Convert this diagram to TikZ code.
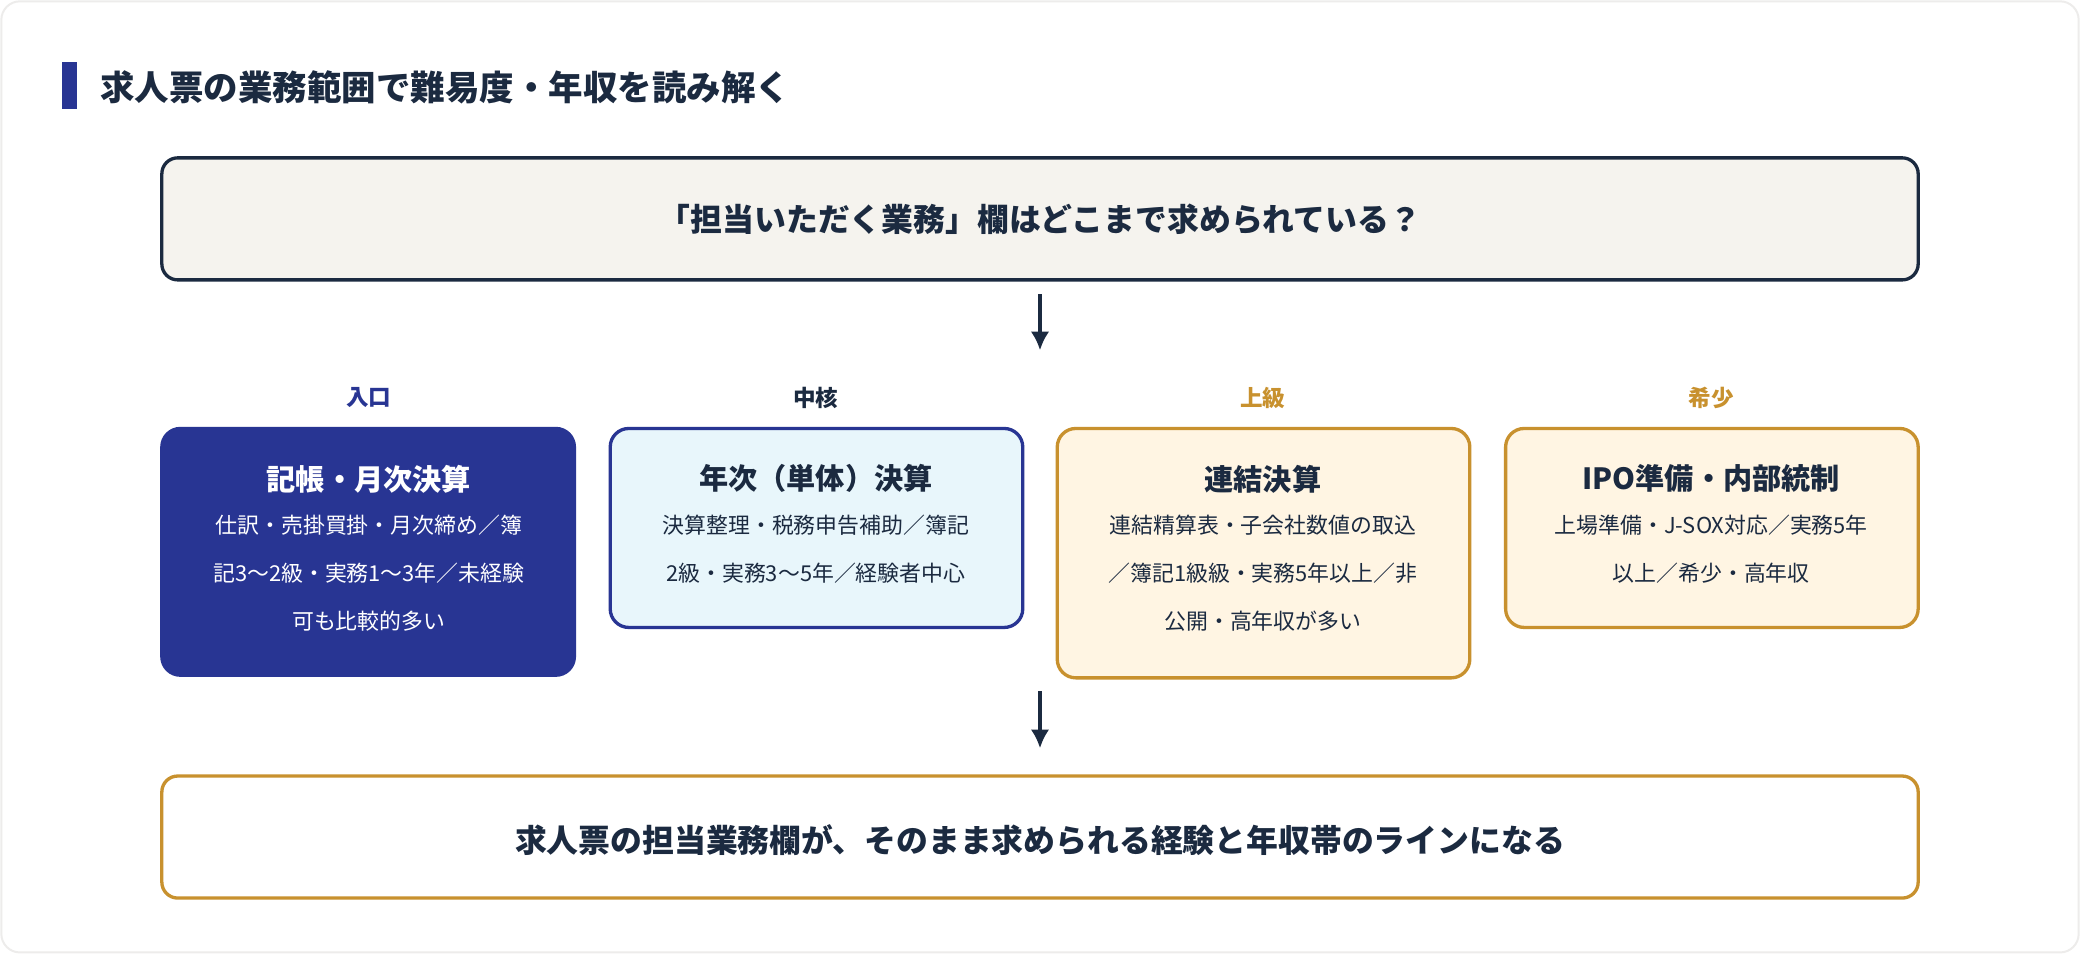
\documentclass[tikz,border=0pt]{standalone}
\usepackage{fontspec}
\usetikzlibrary{arrows.meta}
\setmainfont{Noto Sans CJK JP}
\begin{document}
\begin{tikzpicture}[x=1pt,y=-1pt,
  navy/.style={draw=nv,line width=2.5pt,rounded corners=12pt},
  card/.style={line width=2.5pt,rounded corners=14pt},
  ttl/.style={font=\bfseries\fontsize{22}{26}\selectfont},
  body/.style={font=\fontsize{16.5}{36}\selectfont,align=center},
  lab/.style={font=\bfseries\fontsize{17}{20}\selectfont},
  arr/.style={-{Latex[length=14pt,width=14pt]},line width=2.5pt,draw=nv}]
\definecolor{nv}{HTML}{1B2A40}
\definecolor{bl}{HTML}{283593}
\definecolor{gd}{HTML}{C8912E}
\definecolor{cr}{HTML}{F5F3EE}
\definecolor{lb}{HTML}{E8F6FB}
\definecolor{lo}{HTML}{FFF5E3}
\useasboundingbox (0,0) rectangle (1568,719);
\draw[draw=cr!70!gray!40,fill=white,line width=1.5pt,rounded corners=14pt] (1,1) rectangle (1567,718);
\fill[bl] (47,47) rectangle (58,82);
\node[anchor=west,text=nv,font=\bfseries\fontsize{26}{30}\selectfont] (title) at (72,66) {求人票の業務範囲で難易度・年収を読み解く};
\draw[navy,fill=cr] (122,119) rectangle (1446,211);
\node[text=nv,font=\bfseries\fontsize{24}{28}\selectfont] (q) at (784,165) {「担当いただく業務」欄はどこまで求められている？};
\coordinate (a1) at (784,222); \coordinate (a2) at (784,264);
\draw[arr] (a1) -- (a2);
\node[lab,text=bl] (l1) at (278,300) {入口};
\node[lab,text=nv] (l2) at (615,300) {中核};
\node[lab,text=gd] (l3) at (952,300) {上級};
\node[lab,text=gd] (l4) at (1290,300) {希少};
\draw[card,draw=bl,fill=bl] (122,323) rectangle (433,509);
\draw[card,draw=bl,fill=lb] (460,323) rectangle (771,473);
\draw[card,draw=gd,fill=lo] (797,323) rectangle (1108,511);
\draw[card,draw=gd,fill=lo] (1135,323) rectangle (1446,473);
\node[ttl,text=white] (t1) at (278,361) {記帳・月次決算};
\node[ttl,text=nv] (t2) at (615,361) {年次（単体）決算};
\node[ttl,text=nv] (t3) at (952,361) {連結決算};
\node[ttl,text=nv] (t4) at (1290,361) {IPO準備・内部統制};
\node[body,text=white,anchor=north] (b1) at (278,385) {仕訳・売掛買掛・月次締め／簿\\記3〜2級・実務1〜3年／未経験\\可も比較的多い};
\node[body,text=nv,anchor=north] (b2) at (615,385) {決算整理・税務申告補助／簿記\\2級・実務3〜5年／経験者中心};
\node[body,text=nv,anchor=north] (b3) at (952,385) {連結精算表・子会社数値の取込\\／簿記1級級・実務5年以上／非\\公開・高年収が多い};
\node[body,text=nv,anchor=north] (b4) at (1290,385) {上場準備・J-SOX対応／実務5年\\以上／希少・高年収};
\coordinate (c1) at (784,521); \coordinate (c2) at (784,564);
\draw[arr] (c1) -- (c2);
\draw[card,draw=gd,fill=white,rounded corners=12pt] (122,585) rectangle (1446,677);
\node[text=nv,font=\bfseries\fontsize{24}{28}\selectfont] (res) at (784,633) {求人票の担当業務欄が、そのまま求められる経験と年収帯のラインになる};
\end{tikzpicture}
\end{document}
